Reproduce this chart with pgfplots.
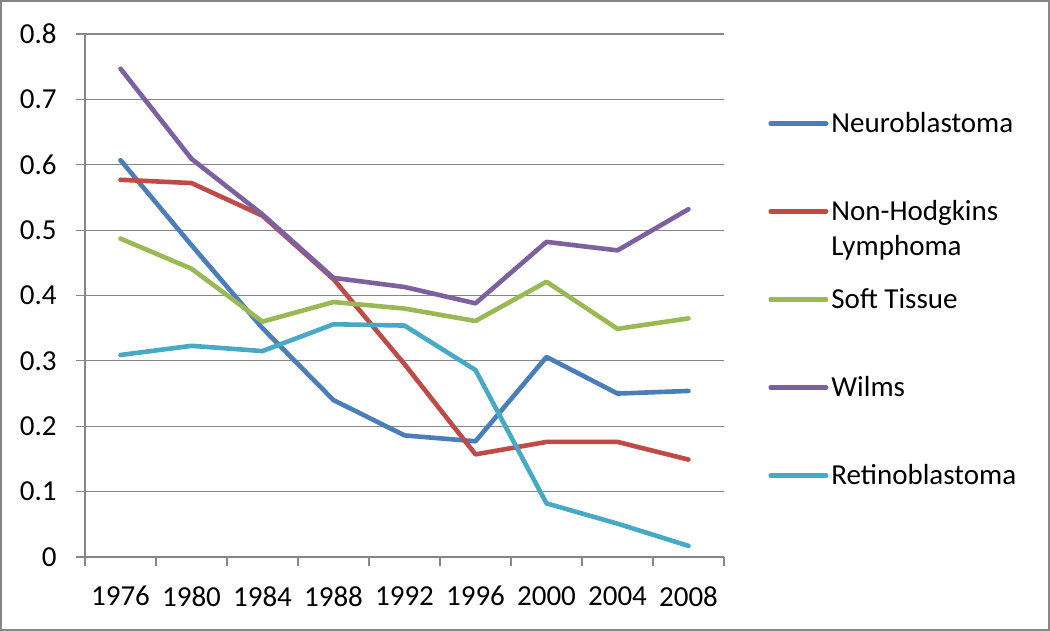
\documentclass[border=0pt]{standalone}
\usepackage{fontspec}
\setmainfont{Carlito}
\usepackage{pgfplots}
\pgfplotsset{compat=1.18}
\definecolor{cBlue}{HTML}{4A7EBB}
\definecolor{cRed}{HTML}{BE4B48}
\definecolor{cGreen}{HTML}{98B954}
\definecolor{cPurple}{HTML}{7D60A0}
\definecolor{cCyan}{HTML}{46AAC5}
\definecolor{gridgray}{HTML}{868686}
\begin{document}
\fontsize{14.5}{17.5}\selectfont
\begin{tikzpicture}
\useasboundingbox (-42.5pt,-37pt) rectangle (482.5pt,278.5pt);
\begin{axis}[
  scale only axis, width=319.5pt, height=261.5pt,
  xmin=0.5, xmax=9.5, ymin=0, ymax=0.8,
  axis lines*=left,
  axis line style={draw=gridgray, line width=0.6pt},
  ytick={0,0.1,0.2,0.3,0.4,0.5,0.6,0.7,0.8},
  yticklabels={0,0.1,0.2,0.3,0.4,0.5,0.6,0.7,0.8},
  xtick={0.5,1.5,2.5,3.5,4.5,5.5,6.5,7.5,8.5,9.5},
  xticklabels={},
  extra x ticks={1,2,3,4,5,6,7,8,9},
  extra x tick labels={1976,1980,1984,1988,1992,1996,2000,2004,2008},
  extra x tick style={major tick length=0pt, grid=none,
     xticklabel style={yshift=-14.5pt}},
  ymajorgrids,
  grid style={draw=gridgray, line width=0.6pt},
  tick style={draw=gridgray, line width=0.6pt},
  major tick length=4.5pt, tick align=outside,
  yticklabel style={inner sep=0pt, xshift=-9.5pt},
  xticklabel style={inner sep=0pt},
  /pgf/number format/assume math mode=true,
  legend cell align=left,
  legend style={at={(1.0689,0.8547)}, anchor=north west, draw=none, fill=none,
     inner sep=0pt, row sep=31pt, column sep=1.5pt,
     nodes={inner sep=0pt, text height=11pt, text depth=2pt}},
  legend image code/.code={\draw[#1] (1.15pt,0pt) -- (28.85pt,0pt);},
  every axis plot/.append style={line width=2.3pt, line join=round, line cap=round},
]
\addplot[cBlue] coordinates {(1,0.607) (2,0.477) (3,0.350) (4,0.240) (5,0.186) (6,0.177) (7,0.306) (8,0.250) (9,0.254)};
\addlegendentry{Neuroblastoma}
\addplot[cRed] coordinates {(1,0.577) (2,0.572) (3,0.522) (4,0.425) (5,0.295) (6,0.157) (7,0.176) (8,0.176) (9,0.149)};
\addlegendentry{\begin{tabular}[t]{@{}l@{}}Non-Hodgkins\\Lymphoma\end{tabular}}
\addplot[cGreen] coordinates {(1,0.487) (2,0.441) (3,0.360) (4,0.390) (5,0.380) (6,0.361) (7,0.421) (8,0.349) (9,0.365)};
\addlegendentry{Soft Tissue}
\addplot[cPurple] coordinates {(1,0.747) (2,0.609) (3,0.524) (4,0.427) (5,0.413) (6,0.388) (7,0.482) (8,0.469) (9,0.532)};
\addlegendentry{Wilms}
\addplot[cCyan] coordinates {(1,0.309) (2,0.323) (3,0.315) (4,0.356) (5,0.354) (6,0.286) (7,0.082) (8,0.051) (9,0.017)};
\addlegendentry{Retinoblastoma}
\end{axis}
\draw[gridgray, line width=0.8pt] (-42pt,-36.5pt) rectangle (482pt,278pt);
\end{tikzpicture}
\end{document}
